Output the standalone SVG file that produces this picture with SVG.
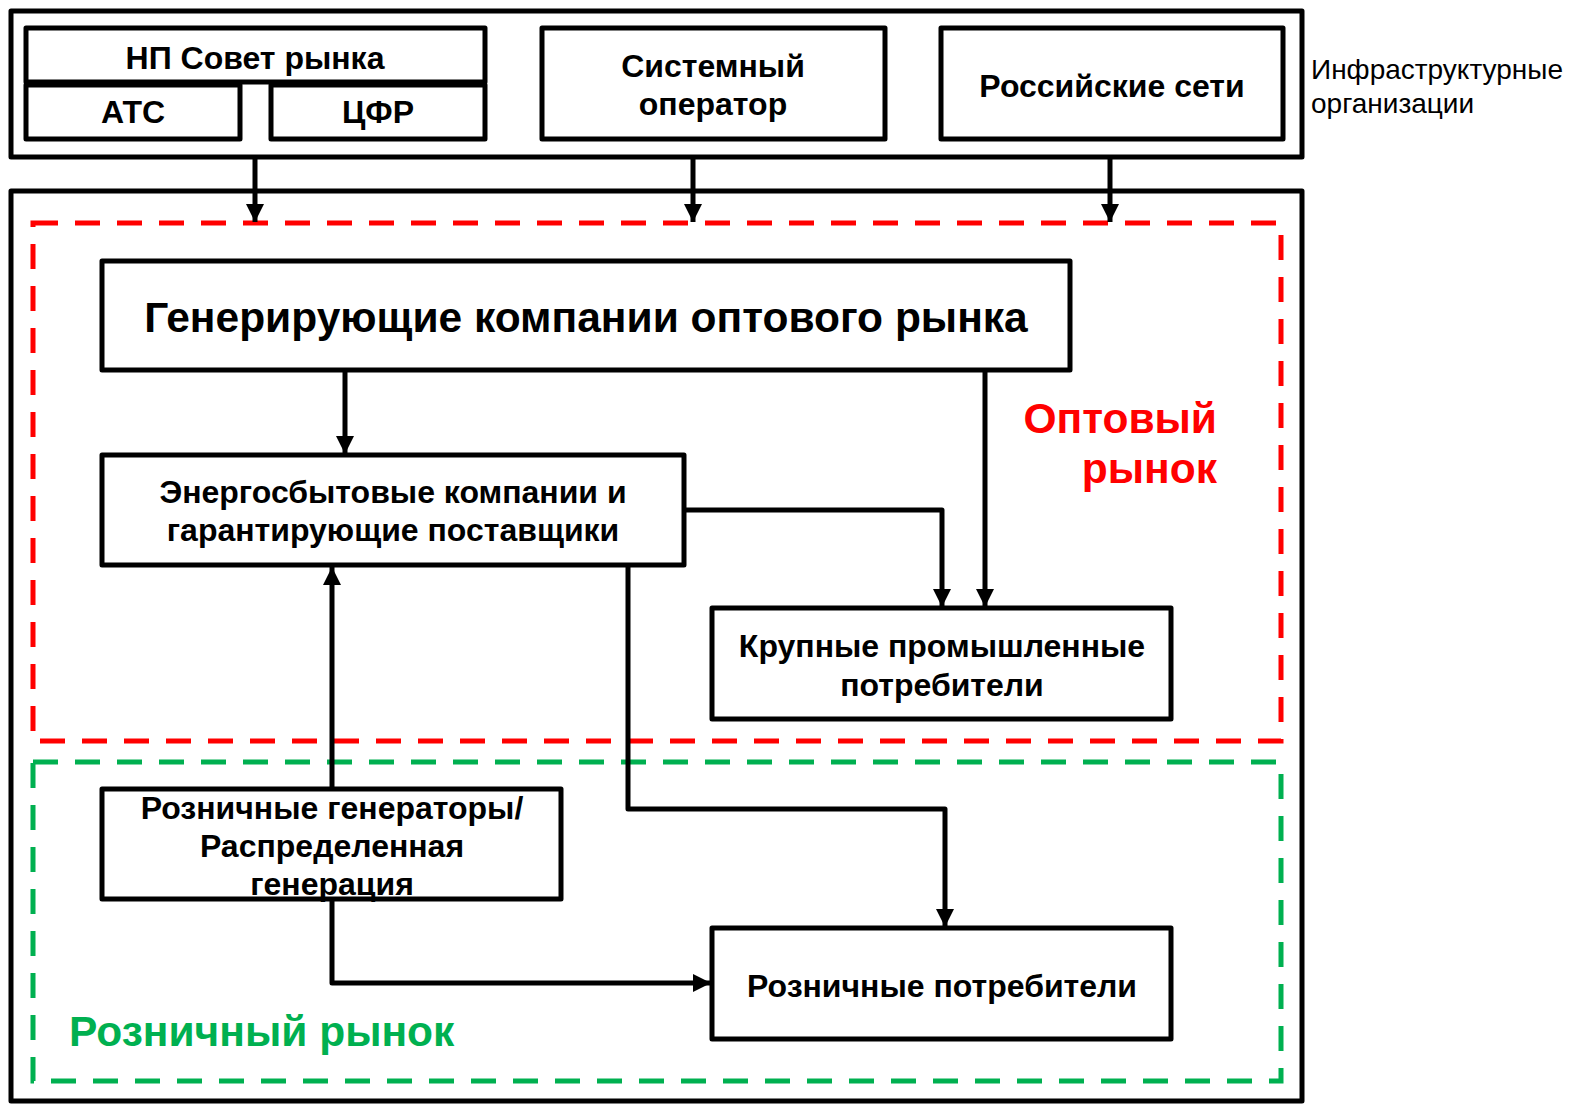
<svg xmlns="http://www.w3.org/2000/svg" width="1569" height="1104" viewBox="0 0 1569 1104">
<style>
.box{fill:#fff;stroke:#000;stroke-width:5;stroke-linejoin:round}
.frame{fill:none;stroke:#000;stroke-width:5;stroke-linejoin:round}
.t{font-family:"Liberation Sans",Arial,sans-serif;font-weight:bold;font-size:32px;text-anchor:middle;fill:#000}
.big{font-size:42.5px}
.lbl{font-family:"Liberation Sans",Arial,sans-serif;font-size:28px;fill:#000}
.con{fill:none;stroke:#000;stroke-width:5;stroke-linejoin:round}
.red{fill:none;stroke:#FF0000;stroke-width:5;stroke-dasharray:25 17}
.green{fill:none;stroke:#00B050;stroke-width:5;stroke-dasharray:25 17}
</style>
<defs>
<marker id="ah" markerUnits="userSpaceOnUse" markerWidth="18" markerHeight="18" viewBox="0 0 18 18" refX="18" refY="9" orient="auto">
<path d="M0,0 L18,9 L0,18 Z" fill="#000"/>
</marker>
</defs>
<rect width="1569" height="1104" fill="#fff"/>
<g id="infra">
<rect class="frame" x="11" y="11" width="1291" height="146"/>
<text class="lbl" x="1311" y="79">Инфраструктурные</text>
<text class="lbl" x="1311" y="113">организации</text>
</g>
<g id="market-frame">
<rect class="frame" x="11" y="191" width="1291" height="910"/>
</g>
<g id="wholesale-zone">
<rect class="red" x="33" y="223" width="1248" height="518"/>
<text class="t" x="1217" y="433" style="font-size:42.5px;fill:#FF0000;text-anchor:end">Оптовый</text>
<text class="t" x="1217" y="483" style="font-size:42.5px;fill:#FF0000;text-anchor:end">рынок</text>
</g>
<g id="retail-zone">
<rect class="green" x="33" y="762" width="1248" height="319"/>
<text class="t" x="69" y="1046" style="font-size:42.5px;fill:#00B050;text-anchor:start">Розничный рынок</text>
</g>
<g id="connectors">
<line class="con" x1="255" y1="157" x2="255" y2="222" marker-end="url(#ah)"/>
<line class="con" x1="693" y1="157" x2="693" y2="222" marker-end="url(#ah)"/>
<line class="con" x1="1110" y1="157" x2="1110" y2="222" marker-end="url(#ah)"/>
<line class="con" x1="345" y1="370" x2="345" y2="454" marker-end="url(#ah)"/>
<polyline class="con" points="684,510 942,510 942,607" marker-end="url(#ah)"/>
<line class="con" x1="985" y1="370" x2="985" y2="607" marker-end="url(#ah)"/>
<polyline class="con" points="628,565 628,809 945,809 945,927" marker-end="url(#ah)"/>
<line class="con" x1="332" y1="789" x2="332" y2="567" marker-end="url(#ah)"/>
<polyline class="con" points="332,899 332,983 711,983" marker-end="url(#ah)"/>
</g>
<g id="np-sovet">
<rect class="box" x="26" y="28" width="459" height="54"/>
<text class="t" x="255" y="69">НП Совет рынка</text>
</g>
<g id="ats">
<rect class="box" x="26" y="85" width="214" height="54"/>
<text class="t" x="133" y="123">АТС</text>
</g>
<g id="cfr">
<rect class="box" x="271" y="85" width="214" height="54"/>
<text class="t" x="378" y="123">ЦФР</text>
</g>
<g id="so">
<rect class="box" x="542" y="28" width="343" height="111"/>
<text class="t" x="713" y="77">Системный</text>
<text class="t" x="713" y="115">оператор</text>
</g>
<g id="rosseti">
<rect class="box" x="941" y="28" width="342" height="111"/>
<text class="t" x="1112" y="97">Российские сети</text>
</g>
<g id="gen">
<rect class="box" x="102" y="261" width="968" height="109"/>
<text class="t big" x="586" y="332">Генерирующие компании оптового рынка</text>
</g>
<g id="sbyt">
<rect class="box" x="102" y="455" width="582" height="110"/>
<text class="t" x="393" y="503">Энергосбытовые компании и</text>
<text class="t" x="393" y="541">гарантирующие поставщики</text>
</g>
<g id="large">
<rect class="box" x="712" y="608" width="459" height="111"/>
<text class="t" x="942" y="657">Крупные промышленные</text>
<text class="t" x="942" y="696">потребители</text>
</g>
<g id="retail-gen">
<rect class="box" x="102" y="789" width="459" height="110"/>
<text class="t" x="332" y="819">Розничные генераторы/</text>
<text class="t" x="332" y="857">Распределенная</text>
<text class="t" x="332" y="895">генерация</text>
</g>
<g id="retail-cons">
<rect class="box" x="712" y="928" width="459" height="111"/>
<text class="t" x="942" y="997">Розничные потребители</text>
</g>
</svg>
